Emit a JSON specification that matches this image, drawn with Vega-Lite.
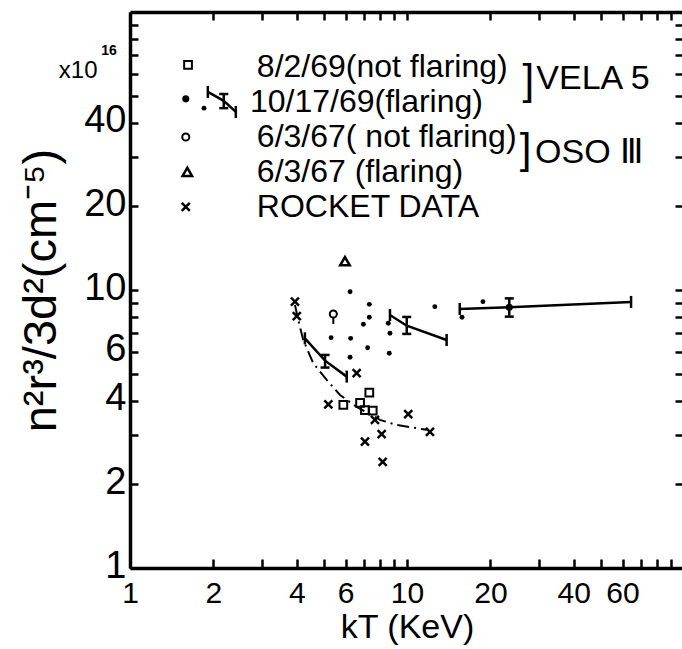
{
  "$schema": "https://vega.github.io/schema/vega-lite/v6.json",
  "width": 554,
  "height": 556,
  "autosize": "none",
  "padding": {"left": 130, "top": 12, "right": 0, "bottom": 81},
  "background": "white",
  "config": {
    "view": {"stroke": null},
    "font": "Liberation Sans",
    "axis": {
      "grid": false,
      "domainColor": "black",
      "domainWidth": 3.5,
      "tickColor": "black",
      "tickWidth": 2.5,
      "labelColor": "black",
      "titleColor": "black",
      "labelFont": "Liberation Sans",
      "titleFont": "Liberation Sans",
      "titleFontWeight": "normal",
      "labelOverlap": false,
      "labelFlush": false,
      "labelBound": false
    }
  },
  "datasets": {
    "dots": [
      {"kT": 6.23, "v": 9.86}, {"kT": 7.31, "v": 8.88}, {"kT": 7.31, "v": 7.98},
      {"kT": 6.96, "v": 7.53}, {"kT": 8.56, "v": 7.59}, {"kT": 8.68, "v": 6.99},
      {"kT": 5.32, "v": 6.74}, {"kT": 6.26, "v": 6.70}, {"kT": 7.21, "v": 6.20},
      {"kT": 8.63, "v": 5.92}, {"kT": 6.23, "v": 5.73}, {"kT": 12.6, "v": 8.71},
      {"kT": 15.8, "v": 7.98}, {"kT": 18.8, "v": 9.08},
      {"kT": 1.85, "v": 45.1}
    ],
    "bigdots": [{"kT": 23.4, "v": 8.66}, {"kT": 1.59, "v": 48.7}],
    "squares": [
      {"kT": 7.31, "v": 4.27}, {"kT": 5.89, "v": 3.86}, {"kT": 6.77, "v": 3.93},
      {"kT": 7.05, "v": 3.70}, {"kT": 7.52, "v": 3.68}, {"kT": 1.62, "v": 64.5}
    ],
    "circles": [{"kT": 5.42, "v": 8.2}, {"kT": 1.59, "v": 35.5}],
    "tails": [{"kT": 5.42, "lo": 7.55, "hi": 7.95}],
    "triangles": [{"kT": 5.97, "v": 12.7}, {"kT": 1.61, "v": 26.6}],
    "xs": [
      {"kT": 3.94, "v": 9.08}, {"kT": 4.0, "v": 8.06}, {"kT": 6.58, "v": 5.02},
      {"kT": 5.2, "v": 3.88}, {"kT": 7.66, "v": 3.41}, {"kT": 10.1, "v": 3.58},
      {"kT": 12.1, "v": 3.09}, {"kT": 8.1, "v": 3.03}, {"kT": 7.05, "v": 2.85},
      {"kT": 8.17, "v": 2.41}, {"kT": 1.59, "v": 19.9}
    ],
    "segments": [
      {"seg": "A", "kT": 15.5, "v": 8.55}, {"seg": "A", "kT": 23.4, "v": 8.66}, {"seg": "A", "kT": 64.4, "v": 9.06},
      {"seg": "B", "kT": 8.68, "v": 8.13}, {"seg": "B", "kT": 9.98, "v": 7.44}, {"seg": "B", "kT": 13.9, "v": 6.61},
      {"seg": "C", "kT": 4.28, "v": 6.70}, {"seg": "C", "kT": 5.06, "v": 5.57}, {"seg": "C", "kT": 6.06, "v": 4.88},
      {"seg": "L", "kT": 1.91, "v": 51.6}, {"seg": "L", "kT": 2.18, "v": 47.9}, {"seg": "L", "kT": 2.41, "v": 43.7}
    ],
    "caps": [
      {"kT": 15.5, "v": 8.55}, {"kT": 64.4, "v": 9.06},
      {"kT": 8.68, "v": 8.13}, {"kT": 13.9, "v": 6.61},
      {"kT": 4.28, "v": 6.70}, {"kT": 6.06, "v": 4.88},
      {"kT": 1.91, "v": 51.6}, {"kT": 2.41, "v": 43.7}
    ],
    "errbars": [
      {"kT": 23.4, "lo": 8.02, "hi": 9.33},
      {"kT": 9.98, "lo": 6.95, "hi": 8.0},
      {"kT": 5.06, "lo": 5.26, "hi": 5.84},
      {"kT": 2.18, "lo": 45.1, "hi": 50.7}
    ],
    "dashdot": [
      {"kT": 3.94, "v": 8.83}, {"kT": 4.05, "v": 7.80}, {"kT": 4.22, "v": 6.61},
      {"kT": 4.59, "v": 5.45}, {"kT": 5.13, "v": 4.75}, {"kT": 5.73, "v": 4.19},
      {"kT": 6.58, "v": 3.80}, {"kT": 7.99, "v": 3.41}, {"kT": 9.18, "v": 3.27},
      {"kT": 11.8, "v": 3.14}
    ],
    "legendText": [
      {"kT": 2.87, "v": 63.4, "t": "8/2/69(not flaring)"},
      {"kT": 2.71, "v": 47.5, "t": "10/17/69(flaring)"},
      {"kT": 2.87, "v": 35.5, "t": "6/3/67( not flaring)"},
      {"kT": 2.87, "v": 26.6, "t": "6/3/67 (flaring)"},
      {"kT": 2.87, "v": 19.9, "t": "ROCKET DATA"}
    ],
    "groupText": [
      {"kT": 29.3, "v": 57.4, "t": "VELA 5"},
      {"kT": 29.0, "v": 31.1, "t": "OSO Ⅲ"}
    ],
    "brackets": [
      {"kT": 27.4, "v": 56.5, "t": "]"},
      {"kT": 26.8, "v": 31.9, "t": "]"}
    ],
    "mult": [{"kT": 0.65, "v": 61.3, "t": "x10"}],
    "multExp": [{"kT": 0.84, "v": 72.5, "t": "16"}]
  },
  "encoding": {
    "x": {"field": "kT", "type": "quantitative", "scale": {"type": "log", "domain": [1, 100], "nice": false}, "axis": null},
    "y": {"field": "v", "type": "quantitative", "scale": {"type": "log", "domain": [1, 100], "nice": false}, "axis": null}
  },
  "resolve": {"axis": {"x": "independent", "y": "independent"}},
  "layer": [
    {
      "data": {"name": "dots"},
      "mark": {"type": "point", "shape": "circle", "filled": true, "color": "black", "size": 24, "opacity": 1},
      "encoding": {
        "x": {"field": "kT", "type": "quantitative", "scale": {"type": "log", "domain": [1, 100], "nice": false},
          "axis": {"orient": "bottom", "values": [1,2,3,4,5,6,7,8,9,10,20,30,40,50,60,70,80,90],
            "tickSize": -9, "labelFontSize": 30, "labelPadding": 19,
            "labelExpr": "indexof([1,2,4,6,10,20,40,60], datum.value) >= 0 ? '' + datum.value : ''",
            "title": "kT (KeV)", "titleFontSize": 34, "titlePadding": 2}},
        "y": {"field": "v", "type": "quantitative", "scale": {"type": "log", "domain": [1, 100], "nice": false},
          "axis": {"orient": "left", "values": [1,2,3,4,5,6,7,8,9,10,20,30,40,50,60,70,80,90],
            "tickSize": -8, "labelFontSize": 38, "labelPadding": 12, "labelOffset": -2,
            "labelExpr": "indexof([1,2,4,6,10,20,40], datum.value) >= 0 ? '' + datum.value : ''",
            "title": "n²r³/3d²(cm⁻⁵)\u00a0\u00a0\u00a0\u00a0\u00a0\u00a0", "titleFontSize": 47, "titleAngle": -90, "titlePadding": 18}}
      }
    },
    {
      "data": {"name": "squares"},
      "mark": {"type": "point", "shape": "square", "filled": false, "stroke": "black", "strokeWidth": 2, "size": 60, "opacity": 1},
      "encoding": {
        "x": {"field": "kT", "type": "quantitative", "scale": {"type": "log", "domain": [1, 100], "nice": false},
          "axis": {"orient": "top", "values": [1,2,3,4,5,6,7,8,9,10,20,30,40,50,60,70,80,90], "tickSize": -8, "labels": false, "title": null}},
        "y": {"field": "v", "type": "quantitative", "scale": {"type": "log", "domain": [1, 100], "nice": false},
          "axis": {"orient": "right", "values": [1,2,3,4,5,6,7,8,9,10,20,30,40,50,60,70,80,90], "tickSize": -9, "labels": false, "title": null}}
      }
    },
    {
      "data": {"name": "bigdots"},
      "mark": {"type": "point", "shape": "circle", "filled": true, "color": "black", "size": 50, "opacity": 1}
    },
    {
      "data": {"name": "circles"},
      "mark": {"type": "point", "shape": "circle", "filled": false, "stroke": "black", "strokeWidth": 2, "size": 50, "opacity": 1}
    },
    {
      "data": {"name": "tails"},
      "mark": {"type": "rule", "stroke": "black", "strokeWidth": 2},
      "encoding": {"y": {"field": "lo", "type": "quantitative", "scale": {"type": "log", "domain": [1, 100], "nice": false}, "axis": null}, "y2": {"field": "hi"}}
    },
    {
      "data": {"name": "triangles"},
      "mark": {"type": "point", "shape": "triangle-up", "filled": false, "stroke": "black", "strokeWidth": 2.5, "size": 90, "opacity": 1}
    },
    {
      "data": {"name": "xs"},
      "mark": {"type": "point", "shape": "M-1,-1L1,1M-1,1L1,-1", "filled": false, "stroke": "black", "strokeWidth": 2.5, "size": 64, "opacity": 1}
    },
    {
      "data": {"name": "segments"},
      "mark": {"type": "line", "stroke": "black", "strokeWidth": 2.5},
      "encoding": {"detail": {"field": "seg", "type": "nominal"}}
    },
    {
      "data": {"name": "caps"},
      "mark": {"type": "point", "shape": "M0,-1L0,1", "filled": false, "stroke": "black", "strokeWidth": 2.5, "size": 144, "opacity": 1}
    },
    {
      "data": {"name": "errbars"},
      "mark": {"type": "rule", "stroke": "black", "strokeWidth": 2.5},
      "encoding": {"y": {"field": "lo", "type": "quantitative", "scale": {"type": "log", "domain": [1, 100], "nice": false}, "axis": null}, "y2": {"field": "hi"}}
    },
    {
      "data": {"name": "errbars"},
      "mark": {"type": "point", "shape": "M-1,0L1,0", "filled": false, "stroke": "black", "strokeWidth": 2.5, "size": 81, "opacity": 1},
      "encoding": {"y": {"field": "lo", "type": "quantitative", "scale": {"type": "log", "domain": [1, 100], "nice": false}, "axis": null}}
    },
    {
      "data": {"name": "errbars"},
      "mark": {"type": "point", "shape": "M-1,0L1,0", "filled": false, "stroke": "black", "strokeWidth": 2.5, "size": 81, "opacity": 1},
      "encoding": {"y": {"field": "hi", "type": "quantitative", "scale": {"type": "log", "domain": [1, 100], "nice": false}, "axis": null}}
    },
    {
      "data": {"name": "dashdot"},
      "mark": {"type": "line", "stroke": "black", "strokeWidth": 2, "strokeDash": [12, 5, 2, 5]}
    },
    {
      "data": {"name": "legendText"},
      "mark": {"type": "text", "align": "left", "baseline": "middle", "fontSize": 32, "font": "Liberation Sans", "color": "black"},
      "encoding": {"text": {"field": "t"}}
    },
    {
      "data": {"name": "groupText"},
      "mark": {"type": "text", "align": "left", "baseline": "middle", "fontSize": 34, "font": "Liberation Sans", "color": "black"},
      "encoding": {"text": {"field": "t"}}
    },
    {
      "data": {"name": "brackets"},
      "mark": {"type": "text", "align": "center", "baseline": "middle", "fontSize": 42, "font": "Liberation Sans", "color": "black"},
      "encoding": {"text": {"field": "t"}}
    },
    {
      "data": {"name": "mult"},
      "mark": {"type": "text", "align": "center", "baseline": "middle", "fontSize": 24, "font": "Liberation Sans", "color": "black"},
      "encoding": {"text": {"field": "t"}}
    },
    {
      "data": {"name": "multExp"},
      "mark": {"type": "text", "align": "center", "baseline": "middle", "fontSize": 14, "font": "Liberation Sans", "fontWeight": "bold", "color": "black"},
      "encoding": {"text": {"field": "t"}}
    }
  ]
}
